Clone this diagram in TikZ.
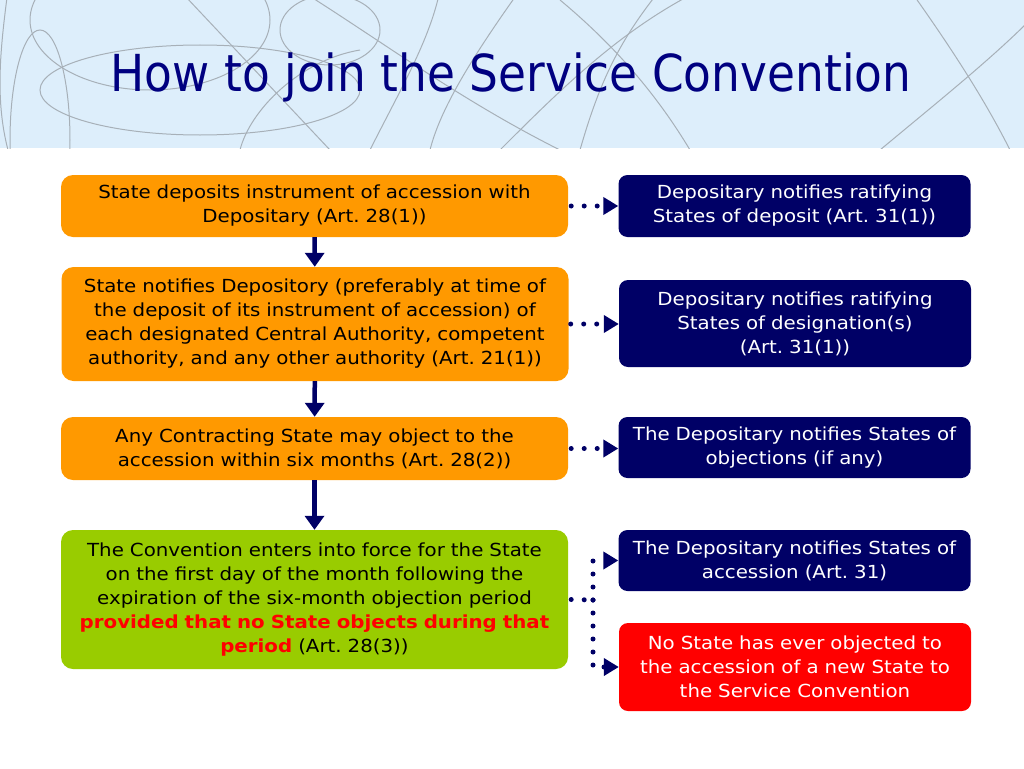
\documentclass[tikz,border=0pt]{standalone}
\usepackage{fontspec}
\setmainfont{DejaVu Sans}[FakeStretch=1.1]
\usetikzlibrary{arrows.meta}

\definecolor{navy}{HTML}{000066}
\definecolor{titleblue}{HTML}{000080}
\definecolor{steporange}{HTML}{FF9900}
\definecolor{stepgreen}{HTML}{99CC00}
\definecolor{alertred}{HTML}{FF0000}
\definecolor{skyband}{HTML}{DDEEFB}
\definecolor{swirl}{HTML}{A7B0B8}

\tikzstyle{stepbox}=[rounded corners=12pt,minimum width=507pt,text width=503pt,align=center,inner sep=0pt,font=\fontsize{18}{24}\selectfont]
\tikzstyle{notebox}=[rounded corners=9pt,fill=navy,text=white,minimum width=352pt,text width=348pt,align=center,inner sep=0pt,font=\fontsize{18}{24}\selectfont]
\tikzstyle{down}=[draw=navy,line width=4.5pt,-{Triangle[length=14pt,width=19pt]}]
\tikzstyle{dots}=[draw=navy,line width=5pt,line cap=round,dash pattern=on 0pt off 13pt,-{Triangle[length=15pt,width=17pt]}]
\tikzstyle{fork}=[draw=navy,line width=5pt,line cap=round,dash pattern=on 0pt off 13pt]

\begin{document}
\begin{tikzpicture}[x=1pt,y=-1pt]
		\useasboundingbox (0,0) rectangle (1024,768);
		% header band
		\fill[skyband] (0,0) rectangle (1024,148);
		\begin{scope}
			\clip (0,0) rectangle (1024,148);
			\draw[swirl,line width=1pt] (150,20) ellipse (120 and 70);
			\draw[swirl,line width=1pt] (200,90) ellipse (160 and 45);
			\draw[swirl,line width=1pt] (330,30) ellipse (50 and 35);
			\draw[swirl,line width=1pt] (40,140) ellipse (30 and 110);
			\draw[swirl,line width=1pt] (170,-20) -- (330,150);
			\draw[swirl,line width=1pt] (300,-10) .. controls (380,40) and (460,100) .. (560,150);
			\draw[swirl,line width=1pt] (520,-10) .. controls (470,60) and (440,110) .. (430,150);
			\draw[swirl,line width=1pt] (580,150) .. controls (600,80) and (620,40) .. (660,-10);
			\draw[swirl,line width=1pt] (500,150) .. controls (560,90) and (620,30) .. (700,-10);
			\draw[swirl,line width=1pt] (560,0) .. controls (620,50) and (660,100) .. (690,150);
			\draw[swirl,line width=1pt] (440,-10) .. controls (430,40) and (400,90) .. (370,150);
			\draw[swirl,line width=1pt] (910,-10) .. controls (960,60) and (990,110) .. (1010,150);
			\draw[swirl,line width=1pt] (880,150) .. controls (940,100) and (990,60) .. (1030,20);
			\draw[swirl,line width=1pt] (240,150) .. controls (250,110) and (300,60) .. (360,50);
			\draw[swirl,line width=1pt] (8,-10) .. controls (0,50) and (-5,100) .. (8,150);
		\end{scope}
		\node [text=titleblue,font=\fontsize{51}{60}\selectfont] (title) at (511,77) {\scalebox{0.81}[1]{How to join the Service Convention}};

		% steps
		\node [stepbox,fill=steporange,minimum height=62pt]  (deposit)  at (314.5,206)   {State deposits instrument of accession with\\ Depositary (Art.~28(1))};
		\node [stepbox,fill=steporange,minimum height=114pt] (authority) at (315,324)    {State notifies Depository (preferably at time of\\ the deposit of its instrument of accession) of\\ each designated Central Authority, competent\\ authority, and any other authority (Art.~21(1))};
		\node [stepbox,fill=steporange,minimum height=63pt]  (objection) at (314.5,448.5) {Any Contracting State may object to the\\ accession within six months (Art.~28(2))};
		\node [stepbox,fill=stepgreen,minimum height=139pt]  (force)    at (314.5,599.5) {The Convention enters into force for the State\\ on the first day of the month following the\\ expiration of the six-month objection period\\ \textcolor{alertred}{\textbf{provided that no State objects during that}}\\ \textcolor{alertred}{\textbf{period}} (Art.~28(3))};

		% notices
		\node [notebox,minimum height=62pt]  (ndeposit)   at (794.5,206)   {Depositary notifies ratifying\\ States of deposit (Art.~31(1))};
		\node [notebox,minimum height=87pt]  (ndesign)    at (795,323.5)   {Depositary notifies ratifying\\ States of designation(s)\\ (Art.~31(1))};
		\node [notebox,minimum height=61pt]  (nobject)    at (794.5,447.5) {The Depositary notifies States of\\ objections (if any)};
		\node [notebox,minimum height=61pt]  (naccession) at (794.5,560.5) {The Depositary notifies States of\\ accession (Art.~31)};
		\node [notebox,fill=alertred,minimum height=88pt] (never) at (795,667) {No State has ever objected to\\ the accession of a new State to\\ the Service Convention};
		\coordinate (split) at (593,600);

		\draw [down] (deposit)   -- (authority);
		\draw [down] (authority) -- (objection);
		\draw [down] (objection) -- (force);
		\draw [dots] (deposit.east)   ++(3,0) -- (ndeposit.west);
		\draw [dots] (authority.east) ++(2,0) -- (ndesign.west |- authority.east);
		\draw [dots] (objection.east) ++(3,0) -- (nobject.west |- objection.east);
		\draw [fork] (force.east) ++(3,0) -- (split);
		\draw [dots] (split) |- (naccession.west);
		\draw [dots] (split) |- (never.west);
	\end{tikzpicture}
\end{document}
